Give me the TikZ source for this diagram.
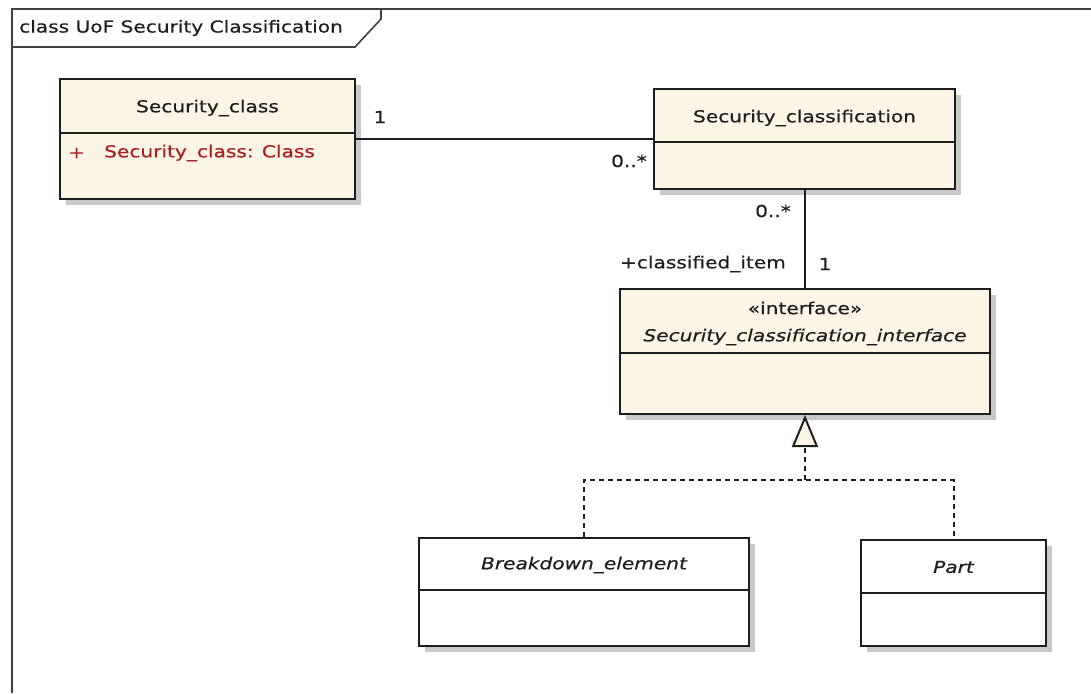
\documentclass[tikz,border=0pt]{standalone}
\usepackage{fontspec}
\setmainfont{DejaVu Sans}[FakeStretch=1.22,FakeBold=0.5]
\usetikzlibrary{arrows.meta,shadows}
\definecolor{cream}{RGB}{252,244,228}
\definecolor{attr}{RGB}{170,30,30}
\definecolor{ink}{RGB}{30,30,30}
\definecolor{shade}{RGB}{200,200,200}
\begin{document}
\begin{tikzpicture}[x=1pt,y=-1pt,
  font=\fontsize{16.5}{20}\selectfont,
  box/.style={draw=ink, line width=2pt, fill=cream, anchor=north west, inner sep=0pt,
    drop shadow={shadow xshift=6pt, shadow yshift=-6pt, fill=shade, opacity=1}},
  whitebox/.style={box, fill=white},
  divider/.style={draw=ink, line width=2pt},
  assoc/.style={draw=ink, line width=2pt},
  real/.style={draw=ink, line width=2pt, dash pattern=on 5pt off 4pt},
  frameline/.style={draw=ink!85, line width=1.6pt},
  txt/.style={inner sep=0pt, text=ink},
  attrtxt/.style={inner sep=0pt, text=attr, anchor=west}
]
\useasboundingbox (0,0) rectangle (1091,693);
\fill[white] (0,0) rectangle (1091,693);

% frame
\draw[frameline] (12,693) -- (12,9) -- (1091,9);
\draw[frameline] (12,47) -- (355,47) -- (381,19) -- (381,9);
\node[txt, anchor=west] (lbl) at (19,28) {class UoF Security Classification};

% Security_class
\node[box, minimum width=295pt, minimum height=120pt] (sc) at (59,78) {};
\draw[divider] (sc.west |- 0,133) -- (sc.east |- 0,133);
\node[txt] (scT) at (sc.north |- 0,108) {Security\_class};
\node[attrtxt] (scP) at (68,153) {+};
\node[attrtxt] (scA) at (104,153) {Security\_class:\hspace{0.5em}Class};

% Security_classification
\node[box, minimum width=301pt, minimum height=100pt] (scn) at (653,88) {};
\draw[divider] (scn.west |- 0,142) -- (scn.east |- 0,142);
\node[txt] (scnT) at (scn.north |- 0,118) {Security\_classification};

% interface
\node[box, minimum width=370pt, minimum height=125pt] (sci) at (619,288) {};
\draw[divider] (sci.west |- 0,353) -- (sci.east |- 0,353);
\node[txt] (sciS) at (sci.north |- 0,308) {«interface»};
\node[txt] (sciT) at (sci.north |- 0,337) {\itshape Security\_classification\_interface};

% Breakdown_element
\node[whitebox, minimum width=330pt, minimum height=108pt] (be) at (418,537) {};
\draw[divider] (be.west |- 0,590) -- (be.east |- 0,590);
\node[txt] (beT) at (be.north |- 0,565) {\itshape Breakdown\_element};

% Part
\node[whitebox, minimum width=185pt, minimum height=106pt] (pt) at (860,539) {};
\draw[divider] (pt.west |- 0,593) -- (pt.east |- 0,593);
\node[txt] (ptT) at (pt.north |- 0,567) {\itshape Part};

% associations
\draw[assoc] (sc.east) -- (scn.west);
\draw[assoc] (scn.south) -- (scn.south |- sci.north);
\node[txt] (m1) at (380,117) {1};
\node[txt] (m2) at (629,161) {0..*};
\node[txt] (m3) at (773,211) {0..*};
\node[txt, anchor=east] (role) at (786,264) {+classified\_item};
\node[txt] (m4) at (825,264) {1};

% realization
\coordinate (jn) at (sci.south |- 0,480);
\draw[real] (be.north) |- (jn) -| (pt.north);
\draw[real, -{Triangle[length=32pt, width=26pt, fill=cream]}] (jn) -- (sci.south);
\end{tikzpicture}
\end{document}
